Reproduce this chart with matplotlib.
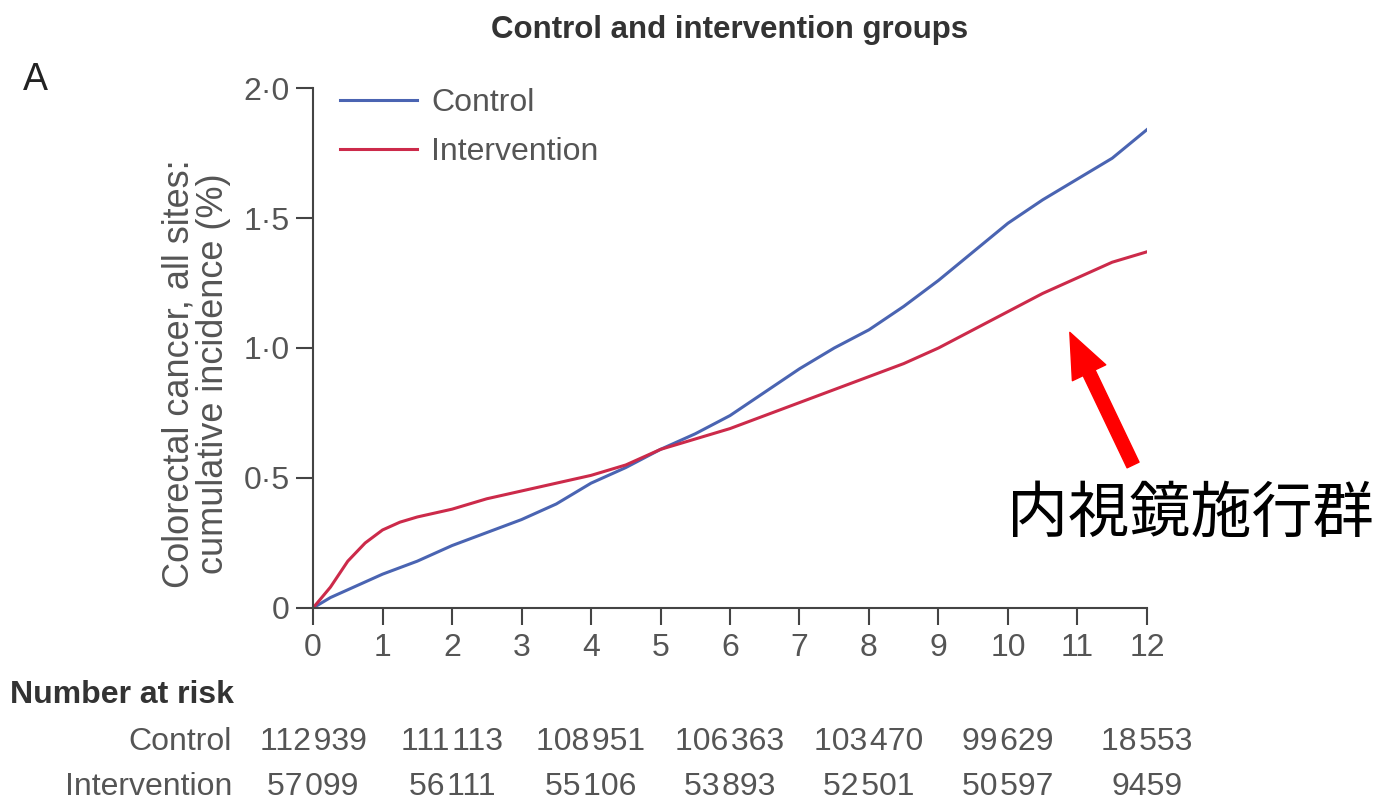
import matplotlib
matplotlib.use("Agg")
import matplotlib.pyplot as plt

# cumulative incidence (%) read at yearly / half-yearly steps
t_control = [0, 0.25, 0.5, 1.0, 1.5, 2.0, 2.5, 3.0, 3.5, 4.0, 4.5, 5.0, 5.5,
             6.0, 6.5, 7.0, 7.5, 8.0, 8.5, 9.0, 9.5, 10.0, 10.5, 11.0, 11.5, 12.0]
inc_control = [0, 0.04, 0.07, 0.13, 0.18, 0.24, 0.29, 0.34, 0.40, 0.48, 0.54, 0.61, 0.67,
               0.74, 0.83, 0.92, 1.00, 1.07, 1.16, 1.26, 1.37, 1.48, 1.57, 1.65, 1.73, 1.84]

t_interv = [0, 0.25, 0.5, 0.75, 1.0, 1.25, 1.5, 2.0, 2.5, 3.0, 3.5, 4.0, 4.5, 5.0,
            5.5, 6.0, 6.5, 7.0, 7.5, 8.0, 8.5, 9.0, 9.5, 10.0, 10.5, 11.0, 11.5, 12.0]
inc_interv = [0, 0.08, 0.18, 0.25, 0.30, 0.33, 0.35, 0.38, 0.42, 0.45, 0.48, 0.51, 0.55, 0.61,
              0.65, 0.69, 0.74, 0.79, 0.84, 0.89, 0.94, 1.00, 1.07, 1.14, 1.21, 1.27, 1.33, 1.37]

risk_years = [0, 2, 4, 6, 8, 10, 12]
risk_control = ["112\u200a939", "111\u200a113", "108\u200a951", "106\u200a363",
                "103\u200a470", "99\u200a629", "18\u200a553"]
risk_interv = ["57\u200a099", "56\u200a111", "55\u200a106", "53\u200a893",
               "52\u200a501", "50\u200a597", "9459"]

y_ticks = [0, 0.5, 1.0, 1.5, 2.0]
y_ticklabels = ["0", "0\u00b75", "1\u00b70", "1\u00b75", "2\u00b70"]

GREY = "#555555"
BLUE = "#4a64b2"
RED = "#cc2a4a"


def main():
    plt.rcParams["font.family"] = ["Liberation Sans", "DejaVu Sans"]
    fig = plt.figure(figsize=(13.95, 8.09), dpi=100)
    ax = fig.add_axes([0.2244, 0.2485, 0.5978, 0.6427])

    ax.plot(t_control, inc_control, color=BLUE, lw=2.2, label="Control")
    ax.plot(t_interv, inc_interv, color=RED, lw=2.2, label="Intervention")

    ax.set_xlim(0, 12)
    ax.set_ylim(0, 2)
    ax.set_xticks(range(13))
    ax.set_yticks(y_ticks)
    ax.set_yticklabels(y_ticklabels)
    for s in ["top", "right"]:
        ax.spines[s].set_visible(False)
    for s in ["left", "bottom"]:
        ax.spines[s].set_color("#444444")
        ax.spines[s].set_linewidth(1.5)
    ax.tick_params(axis="y", length=12, width=1.5, color="#444444", pad=5,
                   labelsize=23, labelcolor=GREY)
    ax.tick_params(axis="x", length=12, width=1.5, color="#444444", pad=6,
                   labelsize=23, labelcolor=GREY)

    ax.set_ylabel("Colorectal cancer, all sites:\ncumulative incidence (%)",
                  fontsize=26, color=GREY, linespacing=1.0)
    ax.yaxis.set_label_coords(-0.098, 0.45)

    leg = ax.legend(loc="upper left", bbox_to_anchor=(-0.002, 1.055), frameon=False,
                    fontsize=23, handlelength=2.4, handletextpad=0.45,
                    labelspacing=0.6)
    for txt in leg.get_texts():
        txt.set_color(GREY)

    fig.text(730 / 1395, 1 - 30 / 809, "Control and intervention groups",
             ha="center", va="center", fontsize=22.5, fontweight="bold", color="#333333")
    fig.text(35 / 1395, 1 - 80 / 809, "A", ha="center", va="center",
             fontsize=27, color="#222222")

    # number at risk table
    fig.text(10 / 1395, 1 - 695 / 809, "Number at risk", ha="left", va="center",
             fontsize=23, fontweight="bold", color="#333333")
    fig.text(232 / 1395, 1 - 742 / 809, "Control", ha="right", va="center",
             fontsize=23, color=GREY)
    fig.text(232 / 1395, 1 - 787 / 809, "Intervention", ha="right", va="center",
             fontsize=23, color=GREY)
    trans = ax.get_xaxis_transform()
    for yr, c, i in zip(risk_years, risk_control, risk_interv):
        ax.text(yr, -0.258, c, transform=trans, ha="center", va="center",
                fontsize=23, color=GREY, clip_on=False)
        ax.text(yr, -0.344, i, transform=trans, ha="center", va="center",
                fontsize=23, color=GREY, clip_on=False)

    # annotation pointing at the intervention curve
    ax.annotate("", xy=(10.89, 1.06), xytext=(11.8, 0.55),
                arrowprops=dict(arrowstyle="simple,head_length=1.15,head_width=0.95,tail_width=0.34",
                                color="red", mutation_scale=28, shrinkA=0, shrinkB=0),
                annotation_clip=False)
    fig.text(1190 / 1395, 1 - 515 / 809, "内視鏡施行群", ha="center", va="center",
             fontsize=44, color="black", family=["Noto Sans CJK JP", "DejaVu Sans"])

    fig.savefig("out.png", dpi=100)


if __name__ == "__main__":
    main()
